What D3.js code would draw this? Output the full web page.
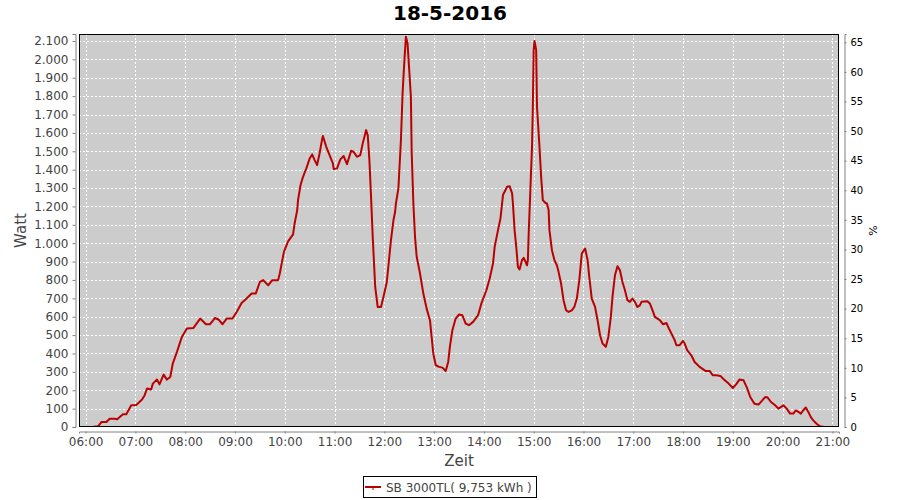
<!DOCTYPE html>
<html>
<head>
<meta charset="utf-8">
<script src="https://cdn.jsdelivr.net/npm/d3@7"></script>
<style>
  html, body { margin: 0; padding: 0; background: #ffffff; }
  svg { display: block; font-family: "DejaVu Sans", sans-serif; }
</style>
</head>
<body>
<div id="chart"></div>
<script>
// ---------- data ----------
const chartTitle = "18-5-2016";
const seriesName = "SB 3000TL( 9,753 kWh )";
const times = ["06:08","06:15","06:19","06:25","06:29","06:35","06:38","06:45","06:49","06:55",
"07:01","07:08","07:11","07:14","07:19","07:21","07:26","07:29","07:34","07:38","07:42","07:45","07:50","07:56",
"08:02","08:10","08:18","08:25","08:30","08:36","08:40","08:45","08:50","08:57",
"09:02","09:08","09:14","09:20","09:25","09:30","09:34","09:40","09:45","09:52","09:54","09:59",
"10:04","10:10","10:12","10:15","10:16","10:19","10:22","10:26","10:30","10:33","10:36","10:39","10:42","10:45","10:46","10:50","10:54","10:58","10:59",
"11:03","11:07","11:11","11:15","11:20","11:23","11:27","11:31","11:34","11:38","11:40","11:42","11:44","11:46","11:49","11:52","11:56","11:59",
"12:03","12:05","12:08","12:11","12:13","12:14","12:17","12:20","12:22","12:24","12:26","12:28","12:30","12:32","12:33","12:35","12:37","12:39","12:43","12:47","12:51","12:55","12:57","12:59",
"13:02","13:06","13:10","13:14","13:17","13:19","13:22","13:26","13:30","13:34","13:38","13:42","13:47","13:53","13:57",
"14:03","14:07","14:11","14:13","14:17","14:20","14:23","14:28","14:31","14:34","14:35","14:37","14:39","14:41","14:43","14:46","14:48","14:52","14:53","14:54","14:56","14:58","14:59",
"15:00","15:01","15:03","15:04","15:07","15:09","15:11","15:14","15:16","15:18","15:19","15:22","15:25","15:28","15:30","15:33","15:36","15:39","15:42","15:46","15:49","15:52","15:55","15:58",
"16:02","16:05","16:07","16:10","16:14","16:17","16:20","16:23","16:27","16:30","16:33","16:35","16:38","16:41","16:44","16:47","16:50","16:53","16:56","16:59",
"17:02","17:05","17:08","17:10","17:17","17:20","17:24","17:26","17:32","17:36","17:40","17:43","17:48","17:50","17:52","17:56",
"18:00","18:02","18:05","18:10","18:14","18:20","18:27","18:32","18:36","18:40","18:45","18:49","18:55",
"19:00","19:04","19:08","19:13","19:17","19:21","19:26","19:31","19:35","19:39","19:42","19:46","19:51","19:55",
"20:01","20:05","20:09","20:13","20:16","20:19","20:22","20:25","20:28","20:31","20:34","20:37","20:41","20:45","20:50"];
const watts = [0,4,27,27,45,45,42,69,69,118,
120,149,172,209,204,236,258,232,285,258,272,345,408,490,
536,539,590,559,559,593,585,559,590,590,
626,675,699,726,726,789,799,771,799,799,835,953,
1010,1048,1110,1180,1234,1316,1361,1407,1461,1483,1452,1425,1489,1565,1583,1524,1479,1434,1403,
1407,1456,1474,1430,1503,1497,1470,1479,1543,1615,1588,1452,1252,1034,762,653,653,708,
789,880,1017,1125,1171,1216,1300,1561,1815,1979,2123,2087,1942,1797,1489,1216,1034,926,835,726,644,581,490,400,
336,327,323,305,354,436,526,590,612,608,563,554,572,608,672,
744,808,890,980,1071,1135,1262,1307,1310,1271,1216,1071,980,871,857,908,920,880,908,1053,1289,1524,1742,
2051,2100,2051,1742,1524,1361,1234,1220,1216,1180,1071,962,908,880,844,781,690,635,626,635,653,699,799,944,
971,908,817,699,653,581,499,454,436,490,599,708,826,875,853,789,744,690,681,699,
681,653,662,681,684,672,626,599,581,559,566,536,490,472,445,445,
468,454,418,390,354,327,305,305,281,281,278,260,236,
212,232,258,254,214,163,127,122,142,163,160,136,118,100,
118,100,73,73,91,82,73,91,106,82,54,36,18,4,0];
const wattTicks = [0,100,200,300,400,500,600,700,800,900,1000,1100,1200,1300,1400,1500,1600,1700,1800,1900,2000,2100];
const percentTicks = [0,5,10,15,20,25,30,35,40,45,50,55,60,65];
const hourTicks = ["06:00","07:00","08:00","09:00","10:00","11:00","12:00","13:00","14:00","15:00","16:00","17:00","18:00","19:00","20:00","21:00"];
const timeDomain = ["05:52","21:08"];
const wattMax = 2138;
const percentMax = 66.4;

// ---------- layout ----------
const W = 900, H = 500;
const plot = { left: 79, right: 839, top: 34, bottom: 427 };
const lineColor = "#bb0000";
const labelColor = "#444444";

const parse = s => { const [h, m] = s.split(":").map(Number); return new Date(2016, 4, 18, h, m); };
const data = times.map((t, i) => ({ t: parse(t), v: watts[i] }));

const x = d3.scaleTime().domain(timeDomain.map(parse)).range([plot.left, plot.right]);
const y = d3.scaleLinear().domain([0, wattMax]).range([plot.bottom, plot.top]);
const yR = d3.scaleLinear().domain([0, percentMax]).range([plot.bottom, plot.top]);

const de = d3.formatLocale({ decimal: ",", thousands: ".", grouping: [3], currency: ["", " €"] });
const fmtW = de.format(",d");

const svg = d3.select("#chart").append("svg").attr("width", W).attr("height", H);
svg.append("rect").attr("width", W).attr("height", H).attr("fill", "#ffffff");

// title
svg.append("text").attr("x", W / 2).attr("y", 20).attr("text-anchor", "middle")
  .attr("font-size", 20).attr("font-weight", "bold").attr("fill", "#000").text(chartTitle);

// plot background
svg.append("rect").attr("x", plot.left).attr("y", plot.top)
  .attr("width", plot.right - plot.left).attr("height", plot.bottom - plot.top)
  .attr("fill", "#cccccc");

// grid
const grid = svg.append("g").attr("stroke", "#ffffff").attr("stroke-width", 1).attr("stroke-dasharray", "2,2");
hourTicks.map(parse).forEach(d => {
  const xx = Math.round(x(d)) + 0.5;
  grid.append("line").attr("x1", xx).attr("x2", xx).attr("y1", plot.top).attr("y2", plot.bottom);
});
wattTicks.forEach(d => {
  const yy = Math.round(y(d)) + 0.5;
  grid.append("line").attr("x1", plot.left).attr("x2", plot.right).attr("y1", yy).attr("y2", yy);
});

// line
const clipId = "plotclip";
svg.append("clipPath").attr("id", clipId).append("rect")
  .attr("x", plot.left).attr("y", plot.top).attr("width", plot.right - plot.left).attr("height", plot.bottom - plot.top);
svg.append("path").datum(data)
  .attr("clip-path", `url(#${clipId})`)
  .attr("fill", "none").attr("stroke", lineColor).attr("stroke-width", 2)
  .attr("stroke-linejoin", "round")
  .attr("d", d3.line().x(d => x(d.t)).y(d => y(d.v)));

// plot outline
svg.append("rect").attr("x", plot.left + 0.5).attr("y", plot.top + 0.5)
  .attr("width", plot.right - plot.left - 1).attr("height", plot.bottom - plot.top - 1)
  .attr("fill", "none").attr("stroke", "#000000").attr("stroke-width", 1);

// axes
function styleAxis(g, color, size) {
  g.selectAll("path.domain").attr("stroke", "#808080");
  g.selectAll(".tick line").attr("stroke", "#808080");
  g.selectAll(".tick text").attr("fill", color).attr("font-size", size).attr("font-family", "DejaVu Sans");
}

const gL = svg.append("g").attr("transform", `translate(${plot.left - 3.5},0)`)
  .call(d3.axisLeft(y).tickValues(wattTicks).tickFormat(fmtW).tickSizeOuter(0).tickSize(3).tickPadding(4));
styleAxis(gL, labelColor, 12);

const gB = svg.append("g").attr("transform", `translate(0,${plot.bottom + 4.5})`)
  .call(d3.axisBottom(x).tickValues(hourTicks.map(parse)).tickFormat(d3.timeFormat("%H:%M")).tickSizeOuter(0).tickSize(2).tickPadding(4));
styleAxis(gB, labelColor, 12);

const gR = svg.append("g").attr("transform", `translate(${plot.right + 5.5},0)`)
  .call(d3.axisRight(yR).tickValues(percentTicks).tickSizeOuter(0).tickSize(2).tickPadding(4));
styleAxis(gR, "#000000", 10);

// axis labels
svg.append("text").attr("transform", `translate(26,${(plot.top + plot.bottom) / 2}) rotate(-90)`)
  .attr("text-anchor", "middle").attr("font-size", 15).attr("fill", labelColor).text("Watt");
svg.append("text").attr("x", (plot.left + plot.right) / 2).attr("y", 466)
  .attr("text-anchor", "middle").attr("font-size", 15).attr("fill", labelColor).text("Zeit");
svg.append("text").attr("transform", `translate(877,${(plot.top + plot.bottom) / 2}) rotate(-90)`)
  .attr("text-anchor", "middle").attr("font-size", 11).attr("fill", "#000").text("%");

// legend
const lg = svg.append("g");
lg.append("rect").attr("x", 363.5).attr("y", 476.5).attr("width", 173).attr("height", 21)
  .attr("fill", "#ffffff").attr("stroke", "#000000").attr("stroke-width", 1);
lg.append("line").attr("x1", 365).attr("x2", 381).attr("y1", 487).attr("y2", 487)
  .attr("stroke", lineColor).attr("stroke-width", 2);
lg.append("line").attr("x1", 373).attr("x2", 373).attr("y1", 487).attr("y2", 490)
  .attr("stroke", lineColor).attr("stroke-width", 1);
lg.append("text").attr("x", 386).attr("y", 491.5).attr("font-size", 12).attr("fill", labelColor).text(seriesName);
</script>
</body>
</html>
